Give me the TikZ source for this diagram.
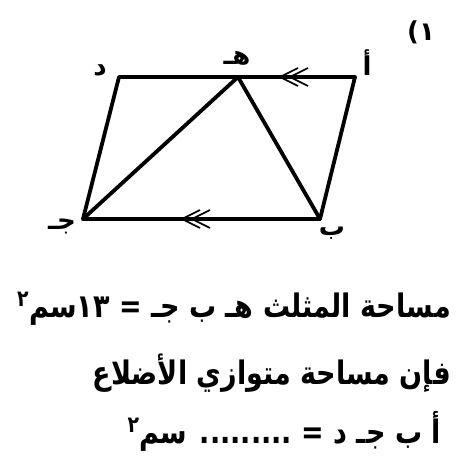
\documentclass[tikz,border=0pt]{standalone}
\usepackage{fontspec}
\newfontfamily\arabicfont[Script=Arabic]{DejaVu Sans}
\newfontfamily\plainfont{DejaVu Sans}
\TeXXeTstate=1
\usetikzlibrary{positioning}

\begin{document}
\begin{tikzpicture}[
        x=1pt, y=-1pt,
        side/.style={line width=3.8pt, line join=round, line cap=round},
        chev/.style={line width=1.6pt},
        dblchev/.pic={
            \draw[chev] (18,-9) -- (0,0) -- (18,9);
            \draw[chev] (28,-9) -- (10,0) -- (28,9);
        },
        vlabel/.style={font=\arabicfont\bfseries\fontsize{26}{28}\selectfont, inner sep=0pt},
        txtline/.style={font=\arabicfont\bfseries\fontsize{27}{30}\selectfont, inner sep=0pt,
            anchor=base east, transform shape, yscale=1.2}
    ]
        \useasboundingbox (0,0) rectangle (456,465);

        % Vertices of the parallelogram
        \coordinate (a) at (355,77);
        \coordinate (d) at (119,77);
        \coordinate (h) at (238,77);
        \coordinate (b) at (320,219);
        \coordinate (c) at (83,219);

        % Sides and the triangle
        \draw[side] (a) -- (d) -- (c) -- (b) -- cycle;
        \draw[side] (c) -- (h) -- (b);

        % Parallel marks
        \coordinate (topmark) at (280,77);
        \coordinate (botmark) at (182,219);
        \pic at (topmark) {dblchev};
        \pic at (botmark) {dblchev};

        % Vertex labels
        \node[vlabel] (la) at (367,63) {\beginR أ\endR};
        \node[vlabel] (ld) at (100,70) {\beginR د\endR};
        \node[vlabel] (lh) at (237,58) {\beginR هـ\endR};
        \node[vlabel] (lc) at (62,226) {\beginR جـ\endR};
        \node[vlabel] (lb) at (332,233) {\beginR ب\endR};

        % Question number
        \node[vlabel] (qnum) at (421,32) {\beginR{\arabicfont ١}{\plainfont\bfseries (}\endR};

        % Question text
        \node[txtline] (line1) at (451,317) {\beginR مساحة المثلث هـ ب جـ = \beginL١٣\endL{}سم\textsuperscript{٢}\endR};
        \node[txtline] (line2) at (451,384) {\beginR فإن مساحة متوازي الأضلاع\endR};
        \node[txtline] (line3) at (441,443) {\beginR أ ب جـ د = ......... سم\textsuperscript{٢}\endR};
\end{tikzpicture}
\end{document}
